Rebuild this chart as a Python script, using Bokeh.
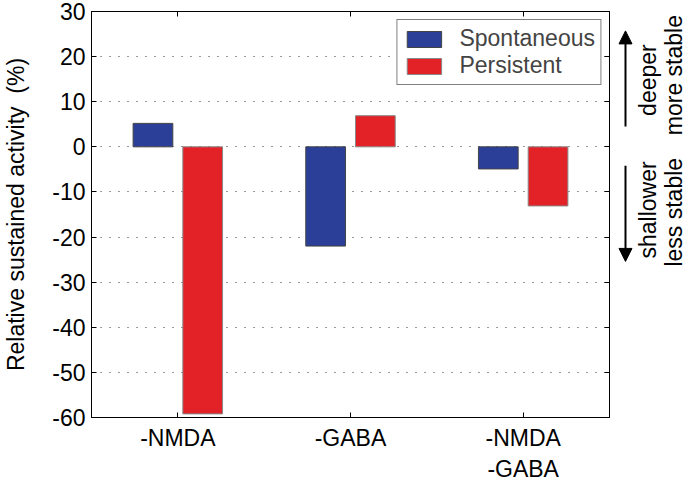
import numpy as np
from bokeh.plotting import figure
from bokeh.layouts import row
from bokeh.models import (ColumnDataSource, FactorRange, Range1d, FixedTicker, LinearAxis,
                          CategoricalAxis, Legend, LegendItem, Label, Arrow, NormalHead,
                          CustomJSTickFormatter)
from bokeh.transform import dodge
from bokeh.embed import file_html
from bokeh.resources import INLINE

categories = ["-NMDA", "-GABA", "-NMDA\n-GABA"]
spontaneous = [5.2, -22.0, -4.9]
persistent = [-59.2, 6.9, -13.1]
y_ticks = [-60, -50, -40, -30, -20, -10, 0, 10, 20, 30]
series_names = ["Spontaneous", "Persistent"]

FONT = "Liberation Sans"
FS = "23px"
BLUE = "#2b3f98"
RED = "#e22227"

src = ColumnDataSource(data=dict(cat=categories, spon=spontaneous, pers=persistent))

yr = Range1d(-60, 30)
p = figure(width=614, height=484, output_backend="svg", toolbar_location=None,
           x_range=FactorRange(factors=categories, range_padding=0),
           y_range=yr,
           min_border_left=84, min_border_right=5, min_border_top=11, min_border_bottom=50)

r1 = p.vbar(x=dodge("cat", -0.144, range=p.x_range), top="spon", bottom=0, width=0.23,
            source=src, fill_color=BLUE, line_color="#444444", line_width=1)
r2 = p.vbar(x=dodge("cat", 0.144, range=p.x_range), top="pers", bottom=0, width=0.23,
            source=src, fill_color=RED, line_color="#888888", line_width=1)

p.outline_line_color = "black"
p.outline_line_width = 1
p.background_fill_color = "white"
p.border_fill_color = "white"

p.xgrid.grid_line_color = None
p.ygrid.ticker = FixedTicker(ticks=y_ticks)
p.ygrid.grid_line_color = "#333333"
p.ygrid.grid_line_dash = "1 8"
p.ygrid.grid_line_width = 1.2

yax = p.yaxis[0]
yax.ticker = FixedTicker(ticks=y_ticks)
yax.major_label_overrides = {t: str(t) for t in y_ticks}
yax.major_tick_in = 5
yax.major_tick_out = 0
yax.minor_tick_line_color = None
yax.major_label_standoff = 6
yax.major_label_text_font = FONT
yax.major_label_text_font_size = FS
yax.major_label_text_color = "black"
yax.axis_line_color = "black"
yax.axis_label = "Relative sustained activity \u00a0(%)"
yax.axis_label_text_font = FONT
yax.axis_label_text_font_size = FS
yax.axis_label_text_font_style = "normal"
yax.axis_label_text_color = "black"
yax.axis_label_standoff = 20

xax = p.xaxis[0]
xax.major_tick_in = 5
xax.major_tick_out = 0
xax.major_label_standoff = 7
xax.major_label_text_font = FONT
xax.major_label_text_font_size = FS
xax.major_label_text_color = "black"
xax.axis_line_color = "black"
xax.major_label_orientation = "horizontal"

blank = CustomJSTickFormatter(code="return ''")
ry = LinearAxis(ticker=FixedTicker(ticks=y_ticks), formatter=blank,
                major_tick_in=5, major_tick_out=0, minor_tick_line_color=None,
                major_label_standoff=0, major_label_text_font_size="1px")
p.add_layout(ry, "right")
tx = CategoricalAxis(major_tick_in=5, major_tick_out=0, major_label_text_font_size="1px",
                     major_label_standoff=0, major_label_text_color=None)
p.add_layout(tx, "above")

legend = Legend(items=[LegendItem(label=series_names[0], renderers=[r1]),
                       LegendItem(label=series_names[1], renderers=[r2])],
                location="top_right", margin=8, padding=5, spacing=0,
                glyph_width=43, glyph_height=20, label_standoff=14,
                label_text_font=FONT, label_text_font_size=FS,
                label_height=20, border_line_color="black", border_line_width=1,
                background_fill_alpha=1)
p.add_layout(legend)

# right-side annotation panel: x in pixels, y shares the value axis
q = figure(width=71, height=484, output_backend="svg", toolbar_location=None,
           x_range=Range1d(0, 71), y_range=yr,
           min_border=0, min_border_left=0, min_border_right=0,
           min_border_top=11, min_border_bottom=50)
q.axis.visible = False
q.grid.visible = False
q.outline_line_color = None
q.border_fill_color = "white"
q.background_fill_color = "white"

q.add_layout(Arrow(end=NormalHead(size=13, fill_color="black", line_color="black"),
                   x_start=11, y_start=4.5, x_end=11, y_end=25.7,
                   line_width=2, line_color="black"))
q.add_layout(Arrow(end=NormalHead(size=13, fill_color="black", line_color="black"),
                   x_start=11, y_start=-4.2, x_end=11, y_end=-25.4,
                   line_width=2, line_color="black"))
for txt, xx, yy in [("deeper", 33, 14.8), ("more stable", 59, 15.9),
                    ("shallower", 33, -14.0), ("less stable", 59, -14.5)]:
    q.add_layout(Label(x=xx, y=yy, text=txt, angle=np.pi / 2, text_align="center",
                       text_baseline="middle", text_font=FONT, text_font_size=FS,
                       text_color="black"))

layout = row(p, q, spacing=0)
open("out.html", "w").write(file_html(layout, INLINE))
